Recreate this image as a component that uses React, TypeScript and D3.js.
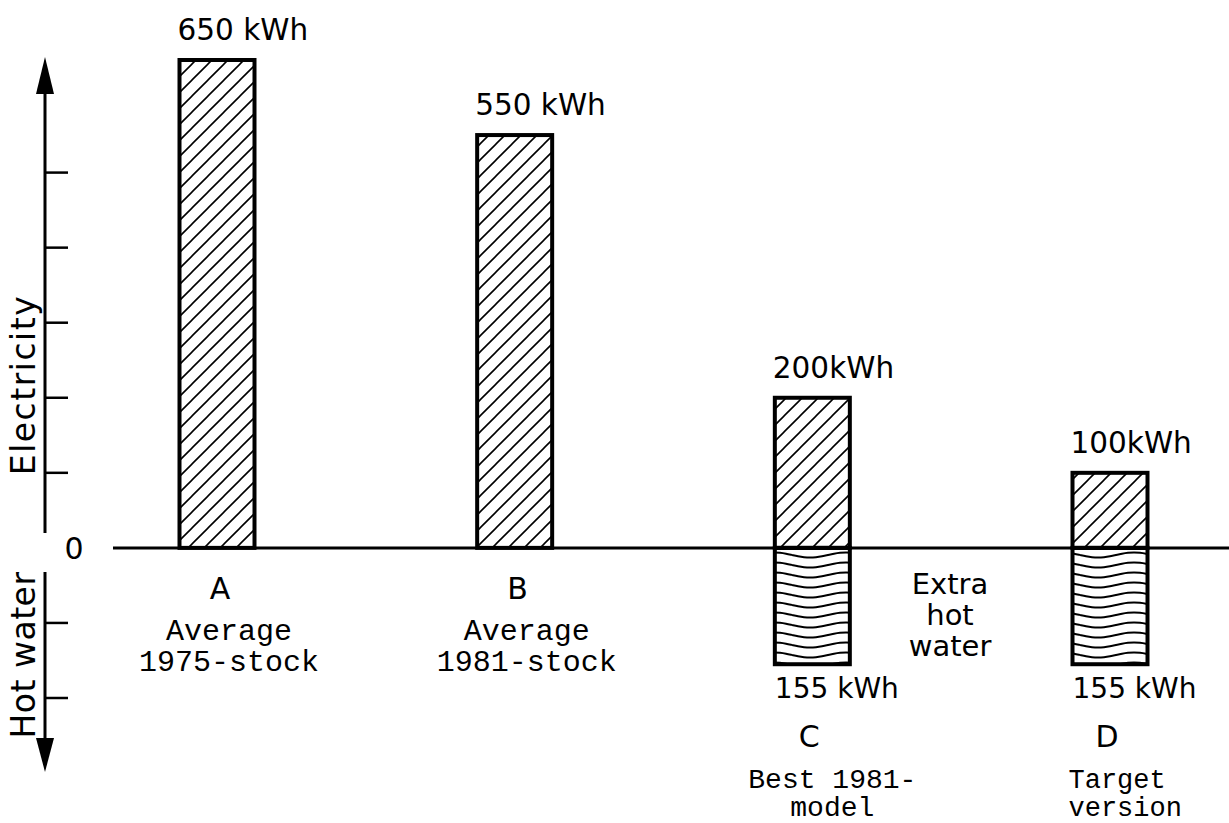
import React from "react";
import * as d3 from "d3";

const categories = ["A", "B", "C", "D"];
const electricity = [650, 550, 200, 100];
const hotWater = [0, 0, 155, 155];
const electricityLabels = ["650 kWh", "550 kWh", "200kWh", "100kWh"];
const hotWaterLabels = ["", "", "155 kWh", "155 kWh"];
const descriptions = [
  ["Average", "1975-stock"],
  ["Average", "1981-stock"],
  ["Best 1981-", "model"],
  ["Target", "version"],
];
const elecTicks = [100, 200, 300, 400, 500];
const hotTicks = [-100, -200];

const W = 1229;
const H = 823;

export default function App() {
  const y = d3.scaleLinear().domain([-200, 650]).range([698, 60]);
  const x = d3.scalePoint<string>().domain(categories).range([217, 1110]);
  const bw = 75;
  const y0 = y(0);
  const axisX = 45;
  const sans = "DejaVu Sans, sans-serif";
  const mono = "Liberation Mono, Courier New, monospace";

  // wave path for pattern (one period across pattern width)
  const waveW = 72;
  const wavePath = d3.line<[number, number]>().curve(d3.curveBasis)(
    d3.range(0, 13).map((i) => [i * 6, 5 + 2.6 * Math.sin((i / 12) * 2 * Math.PI)] as [number, number])
  );

  return (
    <svg width={W} height={H} style={{ position: "absolute", left: 0, top: 0, background: "#fff" }}>
      <defs>
        <pattern id="hatch" patternUnits="userSpaceOnUse" width={16} height={16}>
          <path d="M-2,2 l4,-4 M0,16 l16,-16 M14,18 l4,-4" stroke="#000" strokeWidth={1.6} />
        </pattern>
        <pattern id="wave" patternUnits="userSpaceOnUse" width={waveW} height={10}>
          <path d={wavePath || ""} fill="none" stroke="#000" strokeWidth={2} />
        </pattern>
      </defs>
      <rect x={0} y={0} width={W} height={H} fill="#fff" />

      {/* baseline */}
      <line x1={113} x2={W} y1={y0} y2={y0} stroke="#000" strokeWidth={3} />

      {/* axis */}
      <line x1={axisX} x2={axisX} y1={90} y2={533} stroke="#000" strokeWidth={3} />
      <line x1={axisX} x2={axisX} y1={572} y2={745} stroke="#000" strokeWidth={3} />
      <polygon points={`${axisX},57 ${axisX - 9},94 ${axisX + 9},94`} fill="#000" />
      <polygon points={`${axisX},772 ${axisX - 9},738 ${axisX + 9},738`} fill="#000" />
      {elecTicks.concat(hotTicks).map((t) => (
        <line key={t} x1={axisX} x2={axisX + 23} y1={y(t)} y2={y(t)} stroke="#000" strokeWidth={2.5} />
      ))}
      <text x={74} y={y0 + 11} fontFamily={sans} fontSize={30} textAnchor="middle">0</text>

      <text
        transform={`translate(35,385) rotate(-90)`}
        fontFamily={sans}
        fontSize={33}
        letterSpacing={1.5}
        textAnchor="middle"
      >
        Electricity
      </text>
      <text
        transform={`translate(35,655) rotate(-90)`}
        fontFamily={sans}
        fontSize={33}
        letterSpacing={0.5}
        textAnchor="middle"
      >
        Hot water
      </text>

      {categories.map((c, i) => {
        const cx = x(c) as number;
        const left = cx - bw / 2;
        const hasHot = hotWater[i] > 0;
        return (
          <g key={c}>
            <rect x={left} y={y(electricity[i])} width={bw} height={y0 - y(electricity[i])} fill="url(#hatch)" stroke="#000" strokeWidth={4} />
            {hasHot && (
              <rect x={left} y={y0} width={bw} height={y(-hotWater[i]) - y0} fill="url(#wave)" stroke="#000" strokeWidth={4} />
            )}
            <text x={left - 2} y={y(electricity[i]) - 20} fontFamily={sans} fontSize={29.5}>
              {electricityLabels[i]}
            </text>
            {hasHot && (
              <text x={left} y={y(-hotWater[i]) + 34} fontFamily={sans} fontSize={28}>
                {hotWaterLabels[i]}
              </text>
            )}
            <text
              x={cx + (hasHot ? -3 : 3)}
              y={hasHot ? 747 : 599}
              fontFamily={sans}
              fontSize={30}
              textAnchor="middle"
            >
              {c}
            </text>
            {descriptions[i].map((line, j) => (
              <text
                key={j}
                x={i === 3 ? left - 4 : cx + (i === 2 ? 20 : 12)}
                y={(hasHot ? 788 : 640) + j * (hasHot ? 28 : 31)}
                fontFamily={mono}
                fontSize={i === 0 || i === 1 ? 30 : i === 2 ? 28 : 27}
                textAnchor={i === 3 ? "start" : "middle"}
              >
                {line}
              </text>
            ))}
          </g>
        );
      })}

      {["Extra", "hot", "water"].map((t, j) => (
        <text key={t} x={950} y={594 + j * 31} fontFamily={sans} fontSize={29} textAnchor="middle">
          {t}
        </text>
      ))}
    </svg>
  );
}
